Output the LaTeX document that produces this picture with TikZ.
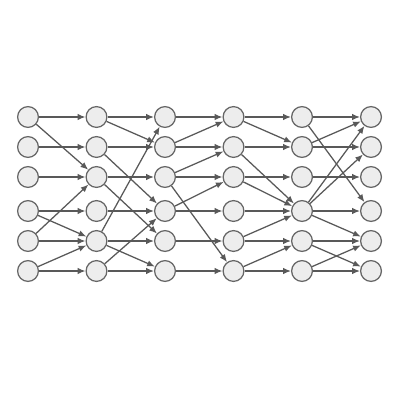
\documentclass[tikz,border=0pt]{standalone}
\usetikzlibrary{arrows.meta}
\begin{document}
\begin{tikzpicture}[x=0.025cm,y=-0.025cm,
	unit/.style={circle,draw=black!60,fill=black!7,line width=0.9pt,minimum size=0.52cm,inner sep=0pt},
	link/.style={->,>={Latex[length=5.5pt,width=4.5pt]},draw=black!65,line width=0.9pt}]
	\useasboundingbox (0,0) rectangle (400,400);
	\foreach \c/\x in {0/28,1/96.5,2/165,3/233.5,4/302,5/371}
	  \foreach \r/\y in {0/117,1/147,2/177,3/211,4/241,5/271}
	    \node[unit] (n\c\r) at (\x,\y) {};

	% layer 0 -> 1
	\foreach \a/\b in {0/0,0/2,1/1,2/2,3/3,3/4,4/4,4/2,5/5,5/4}
	  \draw[link] (n0\a) -- (n1\b);
	% layer 1 -> 2
	\foreach \a/\b in {0/0,0/1,1/1,1/3,2/2,2/4,3/3,4/4,4/0,4/5,5/5,5/3}
	  \draw[link] (n1\a) -- (n2\b);
	% layer 2 -> 3
	\foreach \a/\b in {0/0,1/1,1/0,2/2,2/1,2/5,3/3,3/2,4/4,5/5}
	  \draw[link] (n2\a) -- (n3\b);
	% layer 3 -> 4
	\foreach \a/\b in {0/0,0/1,1/1,1/3,2/2,2/3,3/3,4/4,4/3,5/5,5/4}
	  \draw[link] (n3\a) -- (n4\b);
	% layer 4 -> 5
	\foreach \a/\b in {0/0,0/3,1/1,1/0,2/2,3/3,3/0,3/1,3/4,4/4,4/5,5/5,5/4}
	  \draw[link] (n4\a) -- (n5\b);
\end{tikzpicture}
\end{document}
